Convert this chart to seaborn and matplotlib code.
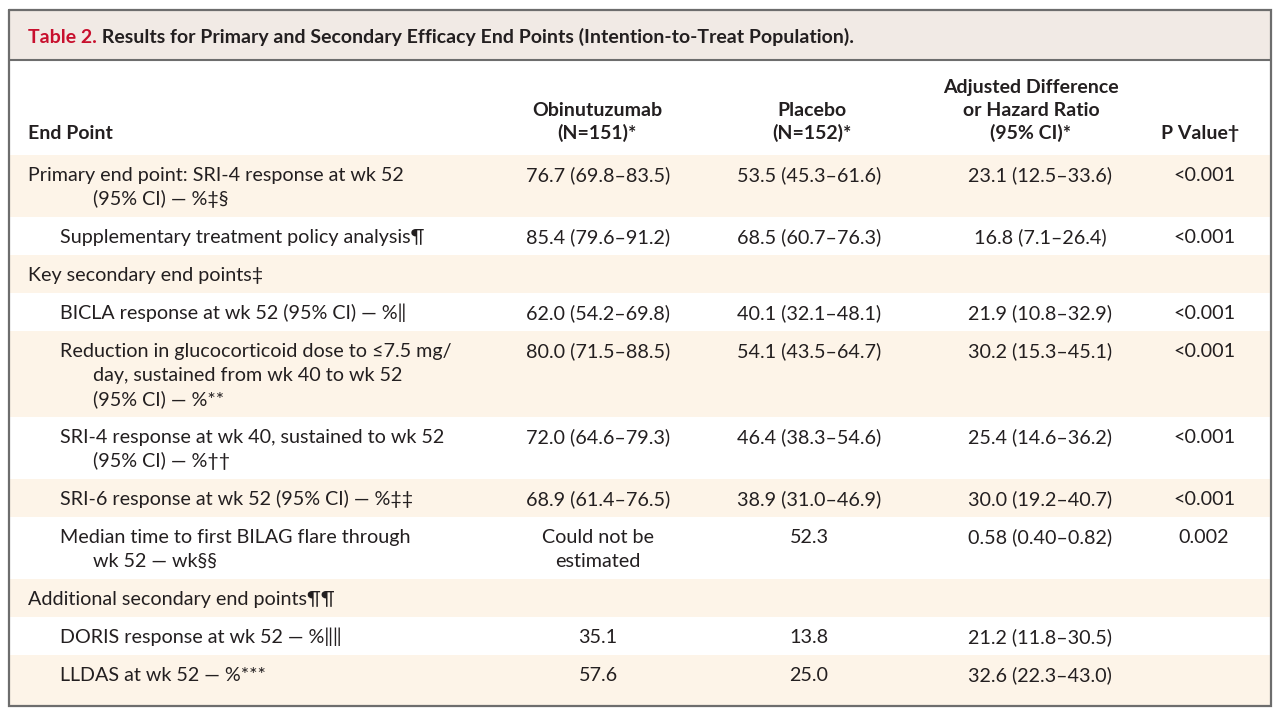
import matplotlib
matplotlib.use("Agg")
import matplotlib.pyplot as plt
import seaborn as sns

sns.set_theme(style="white")
plt.rcParams['font.family'] = ['Lato', 'DejaVu Sans']

# table content
title_label = "Table 2."
title_text = "Results for Primary and Secondary Efficacy End Points (Intention-to-Treat Population)."

col_headers = ["End Point", "Obinutuzumab\n(N=151)*", "Placebo\n(N=152)*",
               "Adjusted Difference\nor Hazard Ratio\n(95% CI)*", "P Value†"]

end_points = [
    "Primary end point: SRI-4 response at wk 52\n(95% CI) — %‡§",
    "Supplementary treatment policy analysis¶",
    "Key secondary end points‡",
    "BICLA response at wk 52 (95% CI) — %‖",
    "Reduction in glucocorticoid dose to ≤7.5 mg/\nday, sustained from wk 40 to wk 52\n(95% CI) — %**",
    "SRI-4 response at wk 40, sustained to wk 52\n(95% CI) — %††",
    "SRI-6 response at wk 52 (95% CI) — %‡‡",
    "Median time to first BILAG flare through\nwk 52 — wk§§",
    "Additional secondary end points¶¶",
    "DORIS response at wk 52 — %‖‖",
    "LLDAS at wk 52 — %***",
]
indent_level = [0, 1, 0, 1, 1, 1, 1, 1, 0, 1, 1]
obinutuzumab = ["76.7 (69.8–83.5)", "85.4 (79.6–91.2)", "", "62.0 (54.2–69.8)",
                "80.0 (71.5–88.5)", "72.0 (64.6–79.3)", "68.9 (61.4–76.5)",
                "Could not be\nestimated", "", "35.1", "57.6"]
placebo = ["53.5 (45.3–61.6)", "68.5 (60.7–76.3)", "", "40.1 (32.1–48.1)",
           "54.1 (43.5–64.7)", "46.4 (38.3–54.6)", "38.9 (31.0–46.9)",
           "52.3", "", "13.8", "25.0"]
adjusted = ["23.1 (12.5–33.6)", "16.8 (7.1–26.4)", "", "21.9 (10.8–32.9)",
            "30.2 (15.3–45.1)", "25.4 (14.6–36.2)", "30.0 (19.2–40.7)",
            "0.58 (0.40–0.82)", "", "21.2 (11.8–30.5)", "32.6 (22.3–43.0)"]
p_values = ["<0.001", "<0.001", "", "<0.001", "<0.001", "<0.001", "<0.001",
            "0.002", "", "", ""]

# layout (pixels)
W, H = 1280, 714
left, right, top, bottom = 9, 1271, 10, 706
title_bottom = 60
body_top = 155
line_h = 24
row_pad = 14
col_x = [598, 809, 1040, 1204]
head_x = [597, 812, 1031, 1200]
indent_x = [28, 60]
cont_x = 93
body_fs = 14.2
head_fs = 14
title_fs = 14

text_c = "#231f20"
red = "#c8102e"
title_bg = "#f1eae5"
shade = "#fdf4e8"
frame = "#6d6d6d"

fig = plt.figure(figsize=(W / 100, H / 100), dpi=100)
ax = fig.add_axes([0, 0, 1, 1])
ax.set_xlim(0, W)
ax.set_ylim(H, 0)
ax.axis("off")

# title bar
ax.fill_between([left, right], top, title_bottom, color=title_bg, lw=0)
t1 = ax.text(28, 43, title_label, color=red, fontsize=title_fs, fontweight="bold",
             va="baseline", ha="left")
ax.annotate(" " + title_text, xy=(1, 0), xycoords=t1, va="bottom", ha="left",
            color=text_c, fontsize=title_fs, fontweight="bold")

# headers
ax.text(indent_x[0], 139, col_headers[0], fontsize=head_fs, fontweight="bold",
        color=text_c, va="baseline", ha="left")
for hx, h in zip(head_x, col_headers[1:]):
    lines = h.split("\n")
    for i, ln in enumerate(lines):
        y = 139 - (len(lines) - 1 - i) * 23
        ax.text(hx, y, ln, fontsize=head_fs, fontweight="bold", color=text_c,
                va="baseline", ha="center")

# body rows
y0 = body_top
for r, ep in enumerate(end_points):
    cells = [ep, obinutuzumab[r], placebo[r], adjusted[r], p_values[r]]
    nlines = max(c.count("\n") + 1 for c in cells)
    h = row_pad + nlines * line_h
    if r == len(end_points) - 1:
        h = bottom - y0
    if r % 2 == 0:
        ax.fill_between([left, right], y0, y0 + h, color=shade, lw=0)
    for i, ln in enumerate(ep.split("\n")):
        x = indent_x[indent_level[r]] if i == 0 else cont_x
        ax.text(x, y0 + 26 + i * line_h, ln, fontsize=body_fs, color=text_c,
                va="baseline", ha="left")
    for cx, c in zip(col_x, cells[1:]):
        for i, ln in enumerate(c.split("\n")):
            ax.text(cx, y0 + 26 + i * line_h, ln, fontsize=body_fs, color=text_c,
                    va="baseline", ha="center")
    y0 += h

# frame
ax.plot([left, right], [title_bottom, title_bottom], color=frame, lw=1.5)
ax.plot([left, right, right, left, left], [top, top, bottom, bottom, top],
        color=frame, lw=1.6, solid_joinstyle="miter")

fig.savefig("out.png", dpi=100)
